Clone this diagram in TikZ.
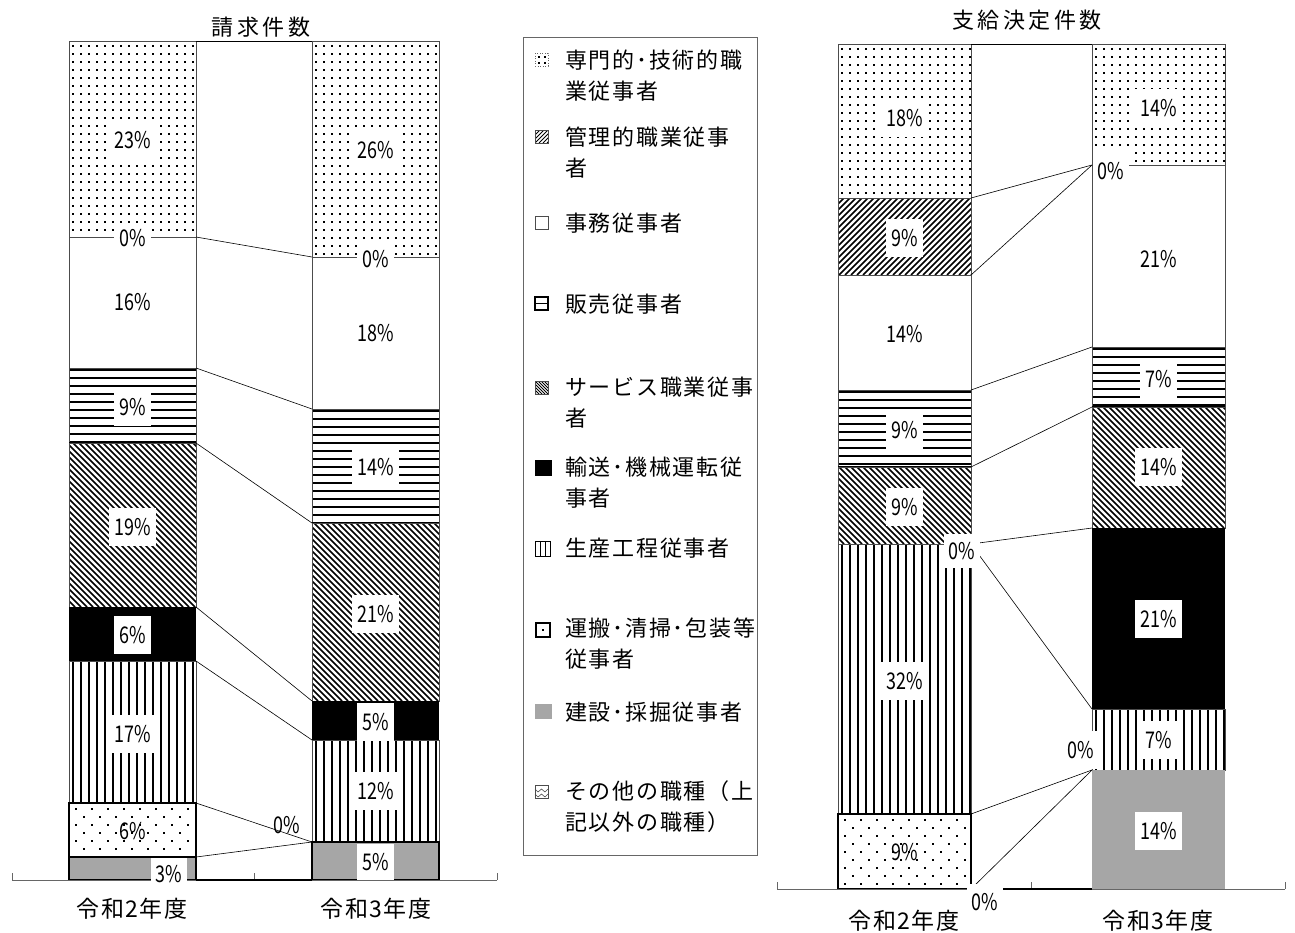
\documentclass[tikz,border=0pt]{standalone}
\usepackage{fontspec}
\usepackage{graphicx}
\setmainfont{Noto Sans CJK JP}
\newfontfamily\spacedjp[LetterSpace=16]{Noto Sans CJK JP}
\newfontfamily\axisjp[LetterSpace=6]{Noto Sans CJK JP}
\newfontfamily\legjp[LetterSpace=8]{Noto Sans CJK JP}
\definecolor{bargray}{HTML}{A6A6A6}
\newcommand\pc[1]{\scalebox{0.78}[1]{#1\%}}
% ---- hatch helpers (x1,x2,y1,y2 in picture units, y downwards) ----
\newcommand\fillHL[4]{\begin{scope}\clip (#1,#3) rectangle (#2,#4);
  \pgfmathsetmacro\hya{#3+1}\pgfmathsetmacro\hyb{#3+9}
  \foreach \yy in {\hya,\hyb,...,#4} \fill (#1,\yy) rectangle (#2,\yy+2.2);
  \end{scope}}
\newcommand\fillVL[4]{\begin{scope}\clip (#1,#3) rectangle (#2,#4);
  \pgfmathsetmacro\hxa{#1+3}\pgfmathsetmacro\hxb{#1+11}
  \foreach \xx in {\hxa,\hxb,...,#2} \fill (\xx,#3) rectangle (\xx+2.2,#4);
  \end{scope}}
\newcommand\fillDots[4]{\begin{scope}\clip (#1,#3) rectangle (#2,#4);
  \pgfmathsetmacro\hxa{#1+3}\pgfmathsetmacro\hxb{#1+11}
  \pgfmathsetmacro\hya{#3+4}\pgfmathsetmacro\hyb{#3+12}
  \foreach \xx in {\hxa,\hxb,...,#2} \foreach \yy in {\hya,\hyb,...,#4}
    \fill (\xx,\yy) rectangle +(1.9,1.9);
  \end{scope}}
\newcommand\fillSparse[4]{\begin{scope}\clip (#1,#3) rectangle (#2,#4);
  \pgfmathsetmacro\hxa{#1+6}\pgfmathsetmacro\hxb{#1+22}
  \pgfmathsetmacro\hxc{#1+14}\pgfmathsetmacro\hxd{#1+30}
  \pgfmathsetmacro\hya{#3+5}\pgfmathsetmacro\hyb{#3+21}
  \pgfmathsetmacro\hyc{#3+13}\pgfmathsetmacro\hyd{#3+29}
  \foreach \xx in {\hxa,\hxb,...,#2} \foreach \yy in {\hya,\hyb,...,#4}
    \fill (\xx,\yy) rectangle +(1.9,1.9);
  \foreach \xx in {\hxc,\hxd,...,#2} \foreach \yy in {\hyc,\hyd,...,#4}
    \fill (\xx,\yy) rectangle +(1.9,1.9);
  \end{scope}}
\newcommand\fillBack[4]{\begin{scope}\clip (#1,#3) rectangle (#2,#4);
  \pgfmathsetmacro\hh{#4-#3}\pgfmathsetmacro\haa{#1-\hh}\pgfmathsetmacro\hab{#1-\hh+6}
  \foreach \aa in {\haa,\hab,...,#2} \draw[line width=1.6pt] (\aa,#3) -- ++(\hh,\hh);
  \end{scope}}
\newcommand\fillFwd[4]{\begin{scope}\clip (#1,#3) rectangle (#2,#4);
  \pgfmathsetmacro\hh{#4-#3}\pgfmathsetmacro\haa{#1-\hh}\pgfmathsetmacro\hab{#1-\hh+6}
  \foreach \aa in {\haa,\hab,...,#2} \draw[line width=1.6pt] (\aa,#4) -- ++(\hh,-\hh);
  \end{scope}}
% ---- segment painters ----
\newcommand\segProf[4]{\fillDots{#1}{#2}{#3}{#4}\draw[sSeg] (#1,#3) rectangle (#2,#4);}
\newcommand\segMgr[4]{\fillFwd{#1}{#2}{#3}{#4}\draw[sSeg] (#1,#3) rectangle (#2,#4);}
\newcommand\segClerk[4]{\draw[sSeg] (#1,#3) rectangle (#2,#4);}
\newcommand\segSales[4]{\fillHL{#1}{#2}{#3}{#4}\draw[sSeg] (#1,#3) rectangle (#2,#4);
  \draw[black,line width=2pt] (#1,#4) -- (#2,#4);}
\newcommand\segServ[4]{\fillBack{#1}{#2}{#3}{#4}\draw[sSeg] (#1,#3) rectangle (#2,#4);}
\newcommand\segTrans[4]{\fill[black] (#1,#3) rectangle (#2,#4);}
\newcommand\segProd[4]{\fillVL{#1}{#2}{#3}{#4}\draw[sSeg] (#1,#3) rectangle (#2,#4);}
\newcommand\segCarry[4]{\fillSparse{#1}{#2}{#3}{#4}\draw[black,line width=2.6pt] (#1,#3) rectangle (#2,#4);}
\tikzset{
  sSeg/.style={draw=black!70, line width=0.8pt},
  sConstr/.style={fill=bargray},
  sConstrB/.style={fill=bargray, draw=black, line width=2pt},
  sLine/.style={draw=black, line width=0.6pt},
  sLbl/.style={fill=white, inner xsep=5pt, inner ysep=0pt, minimum height=38pt, font=\fontsize{23}{23}\selectfont},
  sFree/.style={inner sep=1pt, font=\fontsize{23}{23}\selectfont},
  sTitle/.style={font=\fontsize{22}{22}\selectfont\spacedjp},
  sAxl/.style={font=\fontsize{23}{23}\selectfont\axisjp},
  sLeg/.style={anchor=west, align=left, inner sep=0pt, font=\fontsize{22}{31}\selectfont\legjp},
  sAxis/.style={draw=black!60, line width=0.8pt},
  sKey/.style={draw=black!70, line width=0.7pt},
}
\begin{document}
\begin{tikzpicture}[x=1pt,y=-1pt]
\useasboundingbox[fill=white] (0,0) rectangle (1295,932);

% ================= LEFT CHART =================
\node[sTitle] (t1) at (261,27) {請求件数};
% bar 1
\segProf{69}{196}{41}{237}
\segClerk{69}{196}{237}{368}
\segSales{69}{196}{368}{443}
\segServ{69}{196}{443}{607}
\segTrans{69}{196}{607}{661}
\segProd{69}{196}{661}{803}
\path[sConstrB] (69,857) rectangle (196,880);
\segCarry{69}{196}{803}{857}
% bar 2
\segProf{312}{439}{41}{257}
\segClerk{312}{439}{257}{409}
\segSales{312}{439}{409}{523}
\segServ{312}{439}{523}{701}
\segTrans{312}{439}{701}{740}
\segProd{312}{439}{740}{842}
\path[sConstrB] (312,842) rectangle (439,880);
% axis
\draw[sAxis] (12,880) -- (497,880);
\draw[sAxis] (12,880) -- (12,873);
\draw[sAxis] (254,880) -- (254,873);
\draw[sAxis] (497,880) -- (497,873);
% series line end points
\coordinate (la0) at (196,41);  \coordinate (lb0) at (312,41);
\coordinate (la1) at (196,237); \coordinate (lb1) at (312,257);
\coordinate (la2) at (196,368); \coordinate (lb2) at (312,409);
\coordinate (la3) at (196,443); \coordinate (lb3) at (312,523);
\coordinate (la4) at (196,607); \coordinate (lb4) at (312,701);
\coordinate (la5) at (196,661); \coordinate (lb5) at (312,740);
\coordinate (la6) at (196,803); \coordinate (lb6) at (312,842);
\coordinate (la7) at (196,857);
\coordinate (la8) at (196,880); \coordinate (lb8) at (312,880);
\draw[sLine] (la0) -- (lb0);
\draw[sLine] (la1) -- (lb1);
\draw[sLine] (la2) -- (lb2);
\draw[sLine] (la3) -- (lb3);
\draw[sLine] (la4) -- (lb4);
\draw[sLine] (la5) -- (lb5);
\draw[sLine] (la6) -- (lb6);
\draw[sLine] (la7) -- (lb6);
\draw[sLine, line width=1.2pt] (la8) -- (lb8);
% labels bar 1
\node[sLbl] (p1a) at (132.5,140) {\pc{23}};
\node[sLbl,minimum height=30pt] (p1b) at (132.5,238) {\pc{0}};
\node[sLbl] (p1c) at (132.5,302) {\pc{16}};
\node[sLbl] (p1d) at (132.5,407) {\pc{9}};
\node[sLbl] (p1e) at (132.5,527) {\pc{19}};
\node[sLbl] (p1f) at (132.5,635) {\pc{6}};
\node[sLbl] (p1g) at (132.5,734) {\pc{17}};
\node[sFree] (p1h) at (132.5,831) {\pc{6}};
\node[sLbl,minimum height=32pt] (p1i) at (169,874) {\pc{3}};
% labels bar 2
\node[sLbl] (p2a) at (375.5,150) {\pc{26}};
\node[sLbl,minimum height=30pt] (p2b) at (375.5,259) {\pc{0}};
\node[sLbl] (p2c) at (375.5,333) {\pc{18}};
\node[sLbl] (p2d) at (375.5,467) {\pc{14}};
\node[sLbl] (p2e) at (375.5,614) {\pc{21}};
\node[sLbl] (p2f) at (375.5,722) {\pc{5}};
\node[sLbl] (p2g) at (375.5,791) {\pc{12}};
\node[sLbl,minimum height=36pt] (p2h) at (375.5,862) {\pc{5}};
\node[sFree] (p2i) at (287,825) {\pc{0}};
% x labels
\node[sAxl] (x1) at (132,909) {令和2年度};
\node[sAxl] (x2) at (376,909) {令和3年度};

% ================= LEGEND =================
\draw[draw=black!60, line width=0.8pt] (523,37) rectangle (757,855);
% key 1
\draw[black!60, line width=0.6pt, dotted] (535,53) rectangle (548,66);
\fill (537.8,55.8) rectangle +(1.8,1.8);
\fill (543.8,55.8) rectangle +(1.8,1.8);
\fill (537.8,61.8) rectangle +(1.8,1.8);
\fill (543.8,61.8) rectangle +(1.8,1.8);
\node[sLeg] (l1) at (565,76) {専門的･技術的職\\業従事者};
% key 2
\begin{scope}\clip (535,130) rectangle (548,143);
\foreach \kk in {-12,-8,...,12} \draw[line width=0.9pt] (535+\kk,143) -- ++(13,-13);
\end{scope}
\draw[sKey] (535,130) rectangle (548,143);
\node[sLeg] (l2) at (565,152.5) {管理的職業従事\\者};
% key 3
\draw[sKey, fill=white] (535,216) rectangle (548,229);
\node[sLeg] (l3) at (565,223) {事務従事者};
% key 4
\draw[black, line width=1.4pt] (535,297) rectangle (548,310);
\draw[black, line width=1.4pt] (535,303.5) -- (548,303.5);
\node[sLeg] (l4) at (565,304) {販売従事者};
% key 5
\begin{scope}\clip (535,381) rectangle (548,394);
\foreach \kk in {-12,-9,...,12} \draw[line width=0.8pt] (535+\kk,381) -- ++(13,13);
\end{scope}
\draw[sKey] (535,381) rectangle (548,394);
\node[sLeg] (l5) at (565,403) {サービス職業従事\\者};
% key 6
\fill[black] (535,460) rectangle (552,476);
\node[sLeg] (l6) at (565,482.5) {輸送･機械運転従\\事者};
% key 7
\draw[black, line width=1pt] (535,541) rectangle (550,556);
\draw[black, line width=1pt] (540,541) -- (540,556);
\draw[black, line width=1pt] (545,541) -- (545,556);
\node[sLeg] (l7) at (565,548) {生産工程従事者};
% key 8
\draw[black, line width=2pt] (536,623) rectangle (550,637);
\fill (542.1,629.1) rectangle +(1.8,1.8);
\node[sLeg] (l8) at (565,644) {運搬･清掃･包装等\\従事者};
% key 9
\fill[bargray] (535,704) rectangle (552,719);
\node[sLeg] (l9) at (565,712) {建設･採掘従事者};
% key 10
\draw[black!70, line width=0.6pt] (535,785) rectangle (548,798);
\draw[black!70, line width=0.6pt] (535,789) -- (538,792) -- (541.5,789) -- (545,792) -- (548,789);
\draw[black!70, line width=0.6pt] (535,794) -- (538,797) -- (541.5,794) -- (545,797) -- (548,794);
\node[sLeg] (l10) at (565,806.5) {その他の職種（上\\記以外の職種）};

% ================= RIGHT CHART =================
\node[sTitle] (t2) at (1027,20) {支給決定件数};
% bar 1
\segProf{838}{971}{44}{198}
\segMgr{838}{971}{198}{275}
\segClerk{838}{971}{275}{390}
\segSales{838}{971}{390}{467}
\segServ{838}{971}{467}{544}
\segProd{838}{971}{544}{814}
\segCarry{838}{971}{814}{889}
% bar 2
\segProf{1092}{1225}{44}{165}
\segClerk{1092}{1225}{165}{347}
\segSales{1092}{1225}{347}{407}
\segServ{1092}{1225}{407}{528}
\segTrans{1092}{1225}{528}{709}
\segProd{1092}{1225}{709}{770}
\path[sConstr] (1092,770) rectangle (1225,889);
% axis
\draw[sAxis] (777,889) -- (1285,889);
\draw[sAxis] (777,889) -- (777,882);
\draw[sAxis] (1031,889) -- (1031,882);
\draw[sAxis] (1285,889) -- (1285,882);
% series lines
\coordinate (ra0) at (971,44);  \coordinate (rb0) at (1092,44);
\coordinate (ra1) at (971,198); \coordinate (rb1) at (1092,165);
\coordinate (ra2) at (971,275);
\coordinate (ra3) at (971,390); \coordinate (rb3) at (1092,347);
\coordinate (ra4) at (971,467); \coordinate (rb4) at (1092,407);
\coordinate (ra5) at (971,544); \coordinate (rb5) at (1092,528);
\coordinate (rb6) at (1092,709);
\coordinate (ra7) at (971,814); \coordinate (rb7) at (1092,770);
\coordinate (ra8) at (971,889); \coordinate (rb8) at (1092,889);
\draw[sLine] (ra0) -- (rb0);
\draw[sLine] (ra1) -- (rb1);
\draw[sLine] (ra2) -- (rb1);
\draw[sLine] (ra3) -- (rb3);
\draw[sLine] (ra4) -- (rb4);
\draw[sLine] (ra5) -- (rb5);
\draw[sLine] (ra5) -- (rb6);
\draw[sLine] (ra7) -- (rb7);
\draw[sLine] (ra8) -- (rb7);
\draw[sLine, line width=1.2pt] (ra8) -- (rb8);
% labels bar 1
\node[sLbl] (q1a) at (904.5,118) {\pc{18}};
\node[sLbl] (q1b) at (904.5,238) {\pc{9}};
\node[sLbl] (q1c) at (904.5,334) {\pc{14}};
\node[sLbl] (q1d) at (904.5,430) {\pc{9}};
\node[sLbl] (q1e) at (904.5,507) {\pc{9}};
\node[sLbl,minimum height=34pt] (q1f) at (962,551) {\pc{0}};
\node[sLbl] (q1g) at (904.5,681) {\pc{32}};
\node[sFree] (q1h) at (904.5,852) {\pc{9}};
\node[sLbl,minimum height=36pt] (q1i) at (985,902) {\pc{0}};
% labels bar 2
\node[sLbl] (q2a) at (1158.5,108) {\pc{14}};
\node[sLbl] (q2b) at (1158.5,259) {\pc{21}};
\node[sLbl] (q2c) at (1158.5,379) {\pc{7}};
\node[sLbl] (q2d) at (1158.5,467) {\pc{14}};
\node[sLbl] (q2e) at (1158.5,619) {\pc{21}};
\node[sLbl] (q2f) at (1158.5,740) {\pc{7}};
\node[sLbl] (q2g) at (1158.5,831) {\pc{14}};
\node[sLbl,minimum height=40pt] (q2h) at (1111,171) {\pc{0}};
\node[sLbl,minimum height=38pt] (q2i) at (1081,750) {\pc{0}};
% x labels
\node[sAxl] (x3) at (904,921) {令和2年度};
\node[sAxl] (x4) at (1158,921) {令和3年度};
\end{tikzpicture}
\end{document}
